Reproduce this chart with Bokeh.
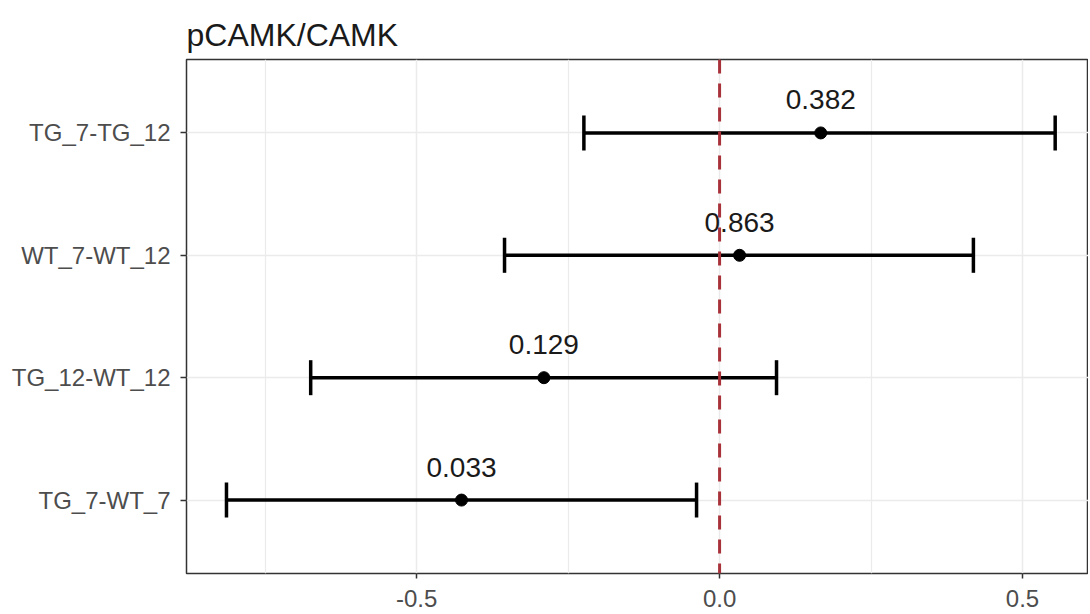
from bokeh.plotting import figure
from bokeh.models import (Range1d, FixedTicker, Span, Whisker, TeeHead,
                          ColumnDataSource, Title)
from bokeh.core.properties import value
from bokeh.embed import file_html
from bokeh.resources import INLINE

# ---- data (bottom to top) ----
comparisons = ["TG_7-WT_7", "TG_12-WT_12", "WT_7-WT_12", "TG_7-TG_12"]
estimate = [-0.426, -0.290, 0.033, 0.167]
lower = [-0.814, -0.675, -0.355, -0.224]
upper = [-0.038, 0.094, 0.419, 0.554]
p_values = ["0.033", "0.129", "0.863", "0.382"]
x_ticks = [-0.5, 0.0, 0.5]
x_tick_labels = ["-0.5", "0.0", "0.5"]
x_minor = [-0.75, -0.25, 0.25]
title_text = "pCAMK/CAMK"

ypos = list(range(1, len(comparisons) + 1))
src = ColumnDataSource(dict(y=ypos, est=estimate, lo=lower, hi=upper, lab=p_values))

FONT = "Liberation Sans"
Y0, Y1 = 0.4, 4.6

p = figure(width=1088, height=614, output_backend="svg", toolbar_location=None,
           x_range=Range1d(-0.880, 0.609), y_range=Range1d(Y0, Y1),
           min_border_left=186, min_border_right=0, min_border_top=59,
           min_border_bottom=41)

p.title = Title(text=title_text, text_font=FONT, text_font_size="32px",
                text_color="#1a1a1a", text_font_style="normal", offset=0,
                standoff=13)

p.background_fill_color = "white"
p.border_fill_color = "white"
p.outline_line_color = "#333333"
p.outline_line_width = 1.5

# grids
p.xgrid.ticker = FixedTicker(ticks=x_ticks, minor_ticks=x_minor)
p.xgrid.grid_line_color = "#ebebeb"
p.xgrid.grid_line_width = 1.5
p.xgrid.minor_grid_line_color = "#ebebeb"
p.xgrid.minor_grid_line_width = 1.2
p.ygrid.ticker = FixedTicker(ticks=ypos)
p.ygrid.grid_line_color = "#ebebeb"
p.ygrid.grid_line_width = 1.5

# axes
p.xaxis.ticker = FixedTicker(ticks=x_ticks)
p.xaxis.major_label_overrides = {t: l for t, l in zip(x_ticks, x_tick_labels)}
p.yaxis.ticker = FixedTicker(ticks=ypos)
p.yaxis.major_label_overrides = {y: c for y, c in zip(ypos, comparisons)}
for ax in (p.xaxis[0], p.yaxis[0]):
    ax.axis_line_color = None
    ax.major_tick_line_color = "#333333"
    ax.major_tick_line_width = 1.5
    ax.major_tick_in = 0
    ax.minor_tick_line_color = None
    ax.major_label_text_font = FONT
    ax.major_label_text_font_size = "24px"
    ax.major_label_text_color = "#4d4d4d"
p.xaxis.major_tick_out = 5
p.xaxis.major_label_standoff = 11
p.xaxis.major_label_text_line_height = 0.9
p.yaxis.major_tick_out = 6
p.yaxis.major_label_standoff = 10

# reference line at 0
p.add_layout(Span(location=0, dimension="height", line_color="#A8323A",
                  line_dash="14 10", line_width=3))

# error bars
wh = Whisker(source=src, base="y", lower="lo", upper="hi", dimension="width",
             line_color="black", line_width=3.5, level="glyph",
             lower_head=TeeHead(size=35, line_width=3.5, line_color="black"),
             upper_head=TeeHead(size=35, line_width=3.5, line_color="black"))
p.add_layout(wh)

p.scatter(x="est", y="y", source=src, size=12, color="black")

p.text(x="est", y="y", text="lab", source=src, text_align="center",
       text_baseline="alphabetic", y_offset=-33, text_font=value(FONT),
       text_font_size="28px", text_color="#1a1a1a")

open("out.html", "w").write(file_html(p, INLINE))
